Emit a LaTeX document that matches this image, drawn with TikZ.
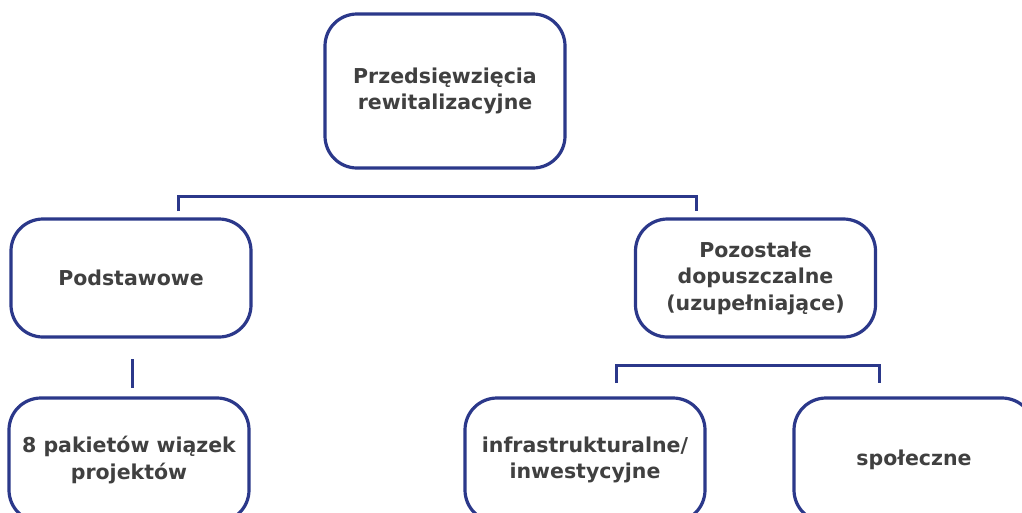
\documentclass[tikz,border=0pt]{standalone}
\usepackage{fontspec}
\setmainfont{DejaVu Sans}
\definecolor{navy}{RGB}{43,56,138}
\definecolor{txt}{RGB}{64,64,64}
\tikzset{
  box/.style={draw=navy, line width=3.2pt, rounded corners=32pt, fill=white,
    minimum width=240pt, align=center, text=txt,
    font=\bfseries\fontsize{20.5}{26.5}\selectfont, inner sep=0pt},
  conn/.style={draw=navy, line width=3pt, line join=miter}
}
\begin{document}
\begin{tikzpicture}[x=1pt,y=-1pt]
\useasboundingbox (0,0) rectangle (1022,512);
\fill[white] (0,0) rectangle (1022,512);
\clip (0,0) rectangle (1022,512);

\node[box, minimum height=154pt] (top) at (445,91) {Przedsięwzięcia\\rewitalizacyjne};
\node[box, minimum height=118pt] (pod) at (131,278) {Podstawowe};
\node[box, minimum height=118pt] (poz) at (755.5,278) {Pozostałe\\dopuszczalne\\(uzupełniające)};
\node[box, minimum height=124pt] (pak) at (129,460) {8 pakietów wiązek\\projektów};
\node[box, minimum height=124pt] (inf) at (585,460) {infrastrukturalne/\\inwestycyjne};
\node[box, minimum height=124pt] (spo) at (914,460) {społeczne};

\coordinate (a1) at (178,211);
\coordinate (a2) at (178,196);
\coordinate (a3) at (696,196);
\coordinate (a4) at (696,211);
\draw[conn] (a1) -- (a2) -- (a3) -- (a4);

\coordinate (b1) at (132,359);
\coordinate (b2) at (132,388);
\draw[conn] (b1) -- (b2);

\coordinate (c1) at (616,383);
\coordinate (c2) at (616,365);
\coordinate (c3) at (879,365);
\coordinate (c4) at (879,383);
\draw[conn] (c1) -- (c2) -- (c3) -- (c4);
\end{tikzpicture}
\end{document}
